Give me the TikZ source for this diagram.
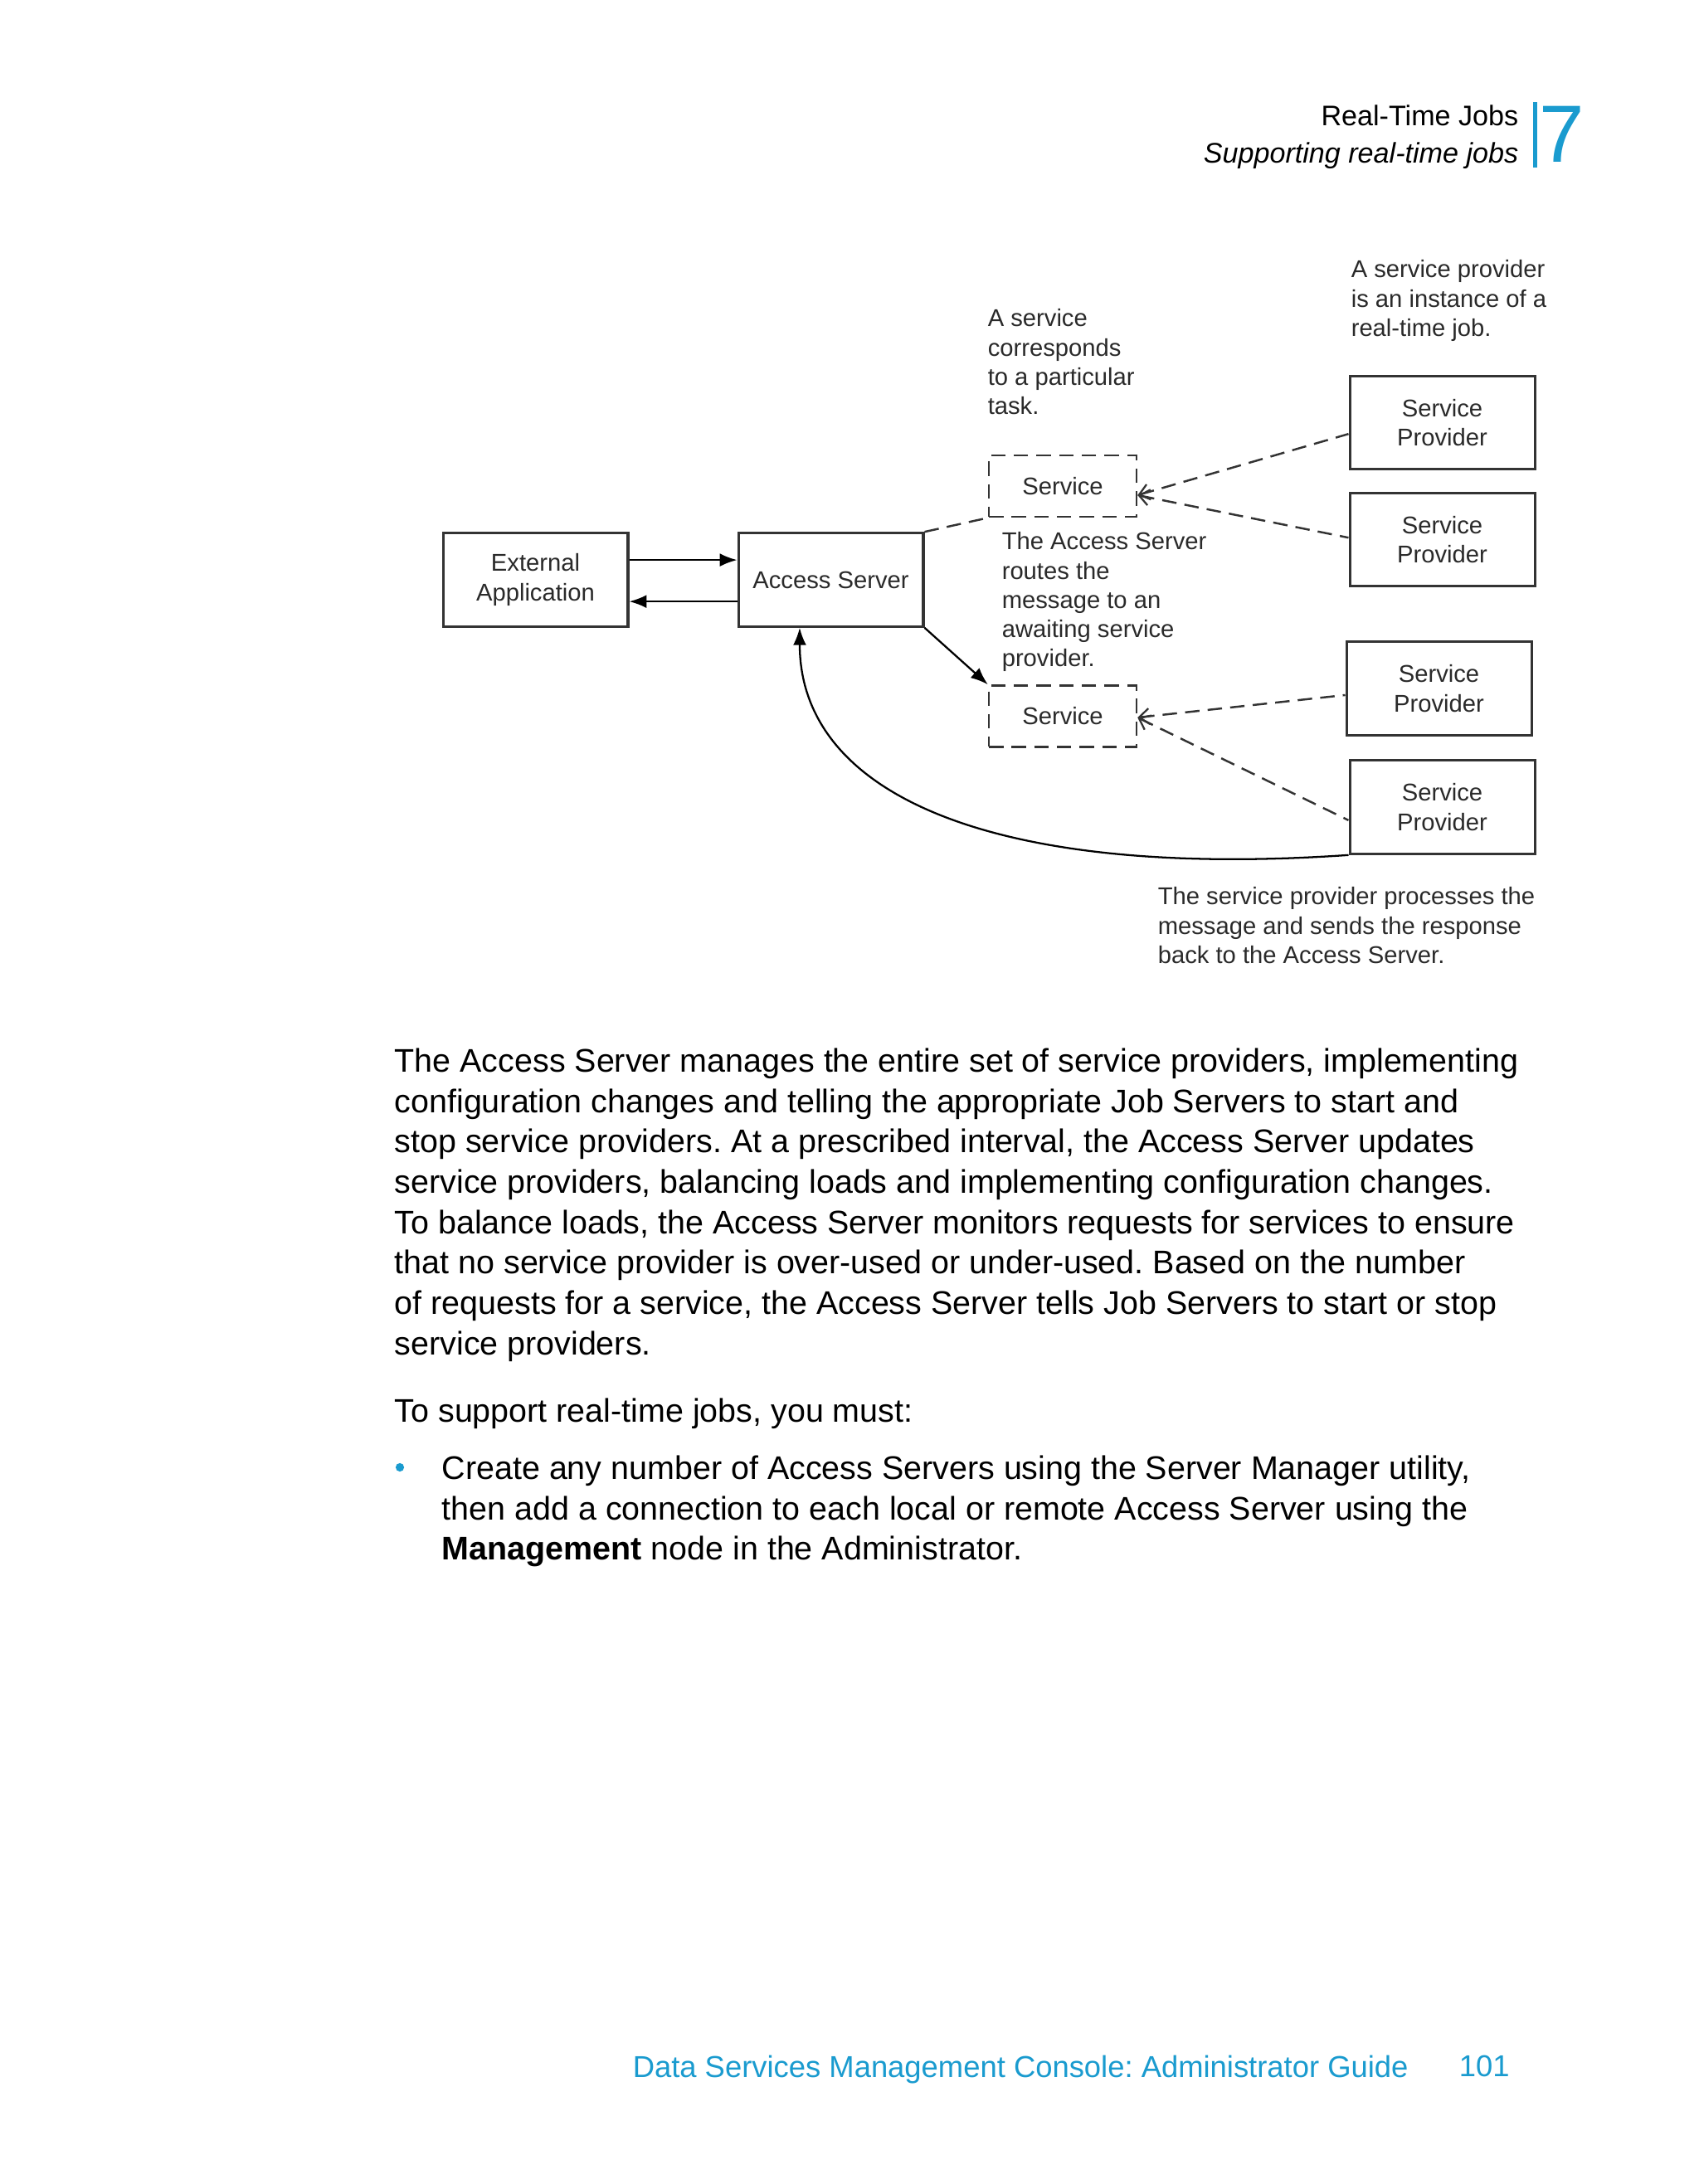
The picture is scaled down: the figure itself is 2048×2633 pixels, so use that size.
\documentclass[tikz,border=0pt]{standalone}
\usepackage{fontspec}
\setmainfont{Liberation Sans}
\usetikzlibrary{positioning,arrows.meta,calc}
\definecolor{docblue}{HTML}{1A9BCF}
\definecolor{boxline}{HTML}{333333}
\definecolor{notegray}{HTML}{2A2A2A}
\frenchspacing

\tikzset{
  provbox/.style={draw=boxline, line width=0.8pt, minimum width=58.8pt, minimum height=29.7pt,
    inner sep=0pt, align=center, text=notegray, font=\fontsize{7.7}{9.4}\selectfont},
  svcbox/.style={draw=boxline, line width=0.7pt, dash pattern=on 4.6pt off 2.6pt,
    minimum width=46.9pt, minimum height=19.5pt, inner sep=0pt, text=notegray,
    font=\fontsize{7.7}{9.4}\selectfont},
  note/.style={anchor=north west, inner sep=0pt, align=left, text=notegray,
    font=\fontsize{7.7}{9.3}\selectfont},
  dashlink/.style={draw=boxline, line width=0.65pt, dash pattern=on 4.6pt off 2.6pt,
    {Straight Barb[length=3.2pt,width=5pt,line width=0.6pt]}-},
  msglink/.style={draw=black, line width=0.6pt, -{Latex[length=5.5pt,width=4.2pt]}},
  bodytext/.style={anchor=north west, inner sep=0pt, align=left,
    font=\fontsize{10.4}{12.84}\selectfont},
}

\begin{document}
\begin{tikzpicture}[x=0.2637pt,y=-0.2637pt]
\useasboundingbox (0,0) rectangle (2048,2633);
\fill[white] (0,0) rectangle (2048,2633);

% running head
\node[anchor=east, inner sep=0pt, font=\fontsize{9}{11}\selectfont] (headtitle) at (1831,139) {Real-Time Jobs};
\node[anchor=east, inner sep=0pt, font=\fontsize{9}{11}\itshape] (headsub) at (1831,188) {Supporting real-time jobs};
\fill[docblue] (1848,123) rectangle (1853,202);
\node[anchor=base west, inner sep=0pt, text=docblue, font=\fontsize{25.8}{28}\selectfont] (chapnum) at (1855,196) {7};

% diagram boxes
\node[provbox] (extapp) at (645.5,699) {External\\Application};
\node[provbox] (accsrv) at (1001.5,699) {Access Server};
\node[svcbox] (svc1) at (1281,586) {Service};
\node[svcbox] (svc2) at (1281,863.5) {Service};
\node[provbox] (prov1) at (1738.5,509.5) {Service\\Provider};
\node[provbox] (prov2) at (1738.5,650.5) {Service\\Provider};
\node[provbox] (prov3) at (1734.5,830) {Service\\Provider};
\node[provbox] (prov4) at (1738.5,973) {Service\\Provider};

% connectors
\draw[msglink] ([yshift=6.3pt]extapp.east) -- ([yshift=6.3pt]accsrv.west);
\draw[msglink] ([yshift=-6.9pt]accsrv.west) -- ([yshift=-6.9pt]extapp.east);
\draw[draw=boxline, line width=0.65pt, dash pattern=on 4.6pt off 2.6pt] (accsrv.north east) -- (svc1.south west);
\draw[msglink] (accsrv.south east) -- (svc2.north west);
\draw[dashlink] ([yshift=-2.9pt]svc1.east) -- ([yshift=-3.6pt]prov1.west);
\draw[dashlink] ([yshift=-2.9pt]svc1.east) -- ([yshift=0.6pt]prov2.west);
\draw[dashlink] ([yshift=-0.4pt]svc2.east) -- ([yshift=-2.1pt]prov3.west);
\draw[dashlink] ([yshift=-0.4pt]svc2.east) -- ([yshift=-4.2pt]prov4.west);
\draw[msglink] (prov4.south west) .. controls (1200,1060) and (964,960) .. ([xshift=-9.9pt]accsrv.south);

% callouts
\node[note] (notesvc) at (1190,372) {A service\\corresponds\\to a particular\\task.};
\node[note] (noteprov) at (1628,313) {A service provider\\is an instance of a\\real-time job.};
\node[note] (noteroute) at (1207,641) {The Access Server\\routes the\\message to an\\awaiting service\\provider.};
\node[note] (notereply) at (1395,1069) {The service provider processes the\\message and sends the response\\back to the Access Server.};

% body text
\node[bodytext] (para) at (475,1263) {The Access Server manages the entire set of service providers, implementing\\
configuration changes and telling the appropriate Job Servers to start and\\
stop service providers. At a prescribed interval, the Access Server updates\\
service providers, balancing loads and implementing configuration changes.\\
To balance loads, the Access Server monitors requests for services to ensure\\
that no service provider is over-used or under-used. Based on the number\\
of requests for a service, the Access Server tells Job Servers to start or stop\\
service providers.};
\node[bodytext] (intro) at (475,1685) {To support real-time jobs, you must:};
\fill[docblue] (482,1769) circle[radius=1.35pt];
\node[bodytext] (item) at (532,1754) {Create any number of Access Servers using the Server Manager utility,\\
then add a connection to each local or remote Access Server using the\\
\textbf{Management} node in the Administrator.};

% footer
\node[anchor=north west, inner sep=0pt, text=docblue, font=\fontsize{9.6}{11}\selectfont] (foottitle) at (762,2477) {Data Services Management Console: Administrator Guide};
\node[anchor=north west, inner sep=0pt, text=docblue, font=\fontsize{9.6}{11}\selectfont] (pagenum) at (1758,2477) {101};
\end{tikzpicture}
\end{document}
